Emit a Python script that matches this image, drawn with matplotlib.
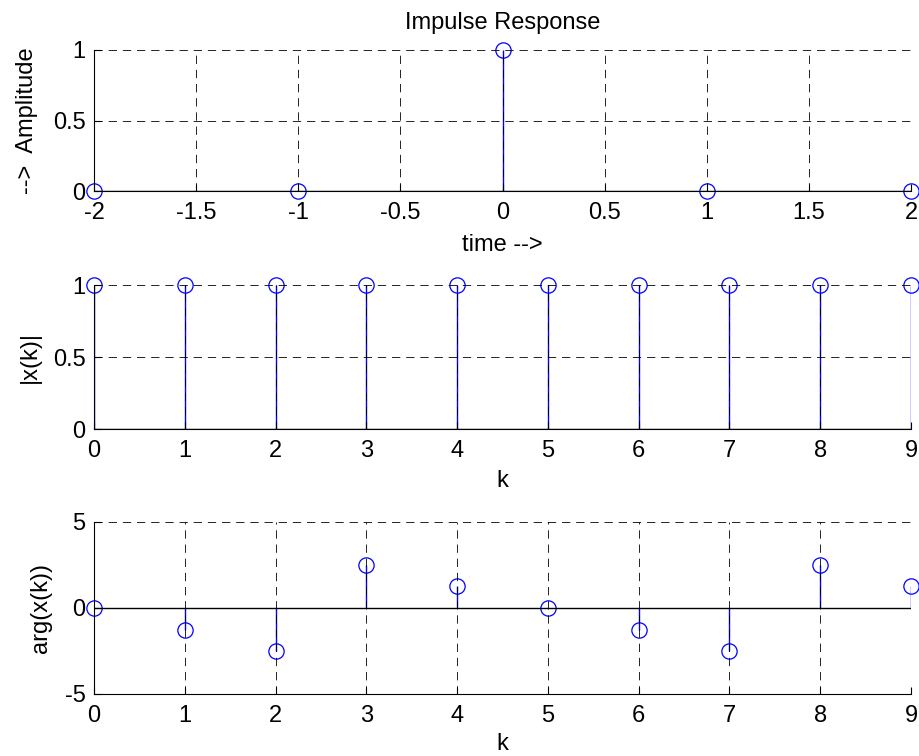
import matplotlib.pyplot as plt

plt.rcParams['font.family'] = ['Liberation Sans', 'DejaVu Sans']
plt.rcParams['font.size'] = 17

# impulse response
n = [-2, -1, 0, 1, 2]
h = [0, 0, 1, 0, 0]

# DFT magnitude and phase
k = [0, 1, 2, 3, 4, 5, 6, 7, 8, 9]
mag = [1, 1, 1, 1, 1, 1, 1, 1, 1, 1]
phase = [0, -1.26, -2.51, 2.51, 1.26, 0, -1.26, -2.51, 2.51, 1.26]

W, H = 919, 756
fig = plt.figure(figsize=(W / 100, H / 100), dpi=100)


def make_axes(left, top, right, bottom):
    return fig.add_axes([left / W, 1 - bottom / H, (right - left) / W, (bottom - top) / H])


def style(ax):
    ax.grid(True, linestyle=(0, (10, 7)), color='black', linewidth=0.6)
    ax.set_axisbelow(False)
    for s in ('top', 'right'):
        ax.spines[s].set_visible(False)
    ax.tick_params(direction='in', length=5, width=0.8)
    ax.tick_params(axis='x', pad=8)
    ax.tick_params(axis='y', pad=6)


def stem(ax, x, y):
    ml, sl, bl = ax.stem(x, y, linefmt='b-', markerfmt='bo', basefmt='k-')
    ml.set_markerfacecolor('none')
    ml.set_markersize(11)
    ml.set_markeredgewidth(0.9)
    sl.set_linewidth(1.0)
    bl.set_linewidth(1.0)
    ml.set_clip_on(False)


ax1 = make_axes(94, 50, 911, 191)
stem(ax1, n, h)
ax1.set_xlim(-2, 2)
ax1.set_ylim(0, 1)
ax1.set_xticks([-2, -1.5, -1, -0.5, 0, 0.5, 1, 1.5, 2])
ax1.set_xticklabels(['-2', '-1.5', '-1', '-0.5', '0', '0.5', '1', '1.5', '2'])
ax1.set_yticks([0, 0.5, 1])
ax1.set_yticklabels(['0', '0.5', '1'])
ax1.set_title('Impulse Response', fontsize=17, pad=15)
ax1.set_xlabel('time -->', labelpad=7)
ax1.set_ylabel('-->  Amplitude', labelpad=11)
style(ax1)

ax2 = make_axes(94, 285, 911, 429)
stem(ax2, k, mag)
ax2.set_xlim(0, 9)
ax2.set_ylim(0, 1)
ax2.set_xticks(k)
ax2.set_yticks([0, 0.5, 1])
ax2.set_yticklabels(['0', '0.5', '1'])
ax2.set_xlabel('k', labelpad=6)
ax2.set_ylabel('|x(k)|', labelpad=9)
style(ax2)

ax3 = make_axes(94, 522, 911, 694)
stem(ax3, k, phase)
ax3.set_xlim(0, 9)
ax3.set_ylim(-5, 5)
ax3.set_xticks(k)
ax3.set_yticks([-5, 0, 5])
ax3.set_yticklabels(['-5', '0', '5'])
ax3.set_xlabel('k', labelpad=4)
ax3.set_ylabel('arg(x(k))', labelpad=9)
style(ax3)

fig.savefig('out.png', dpi=100)
